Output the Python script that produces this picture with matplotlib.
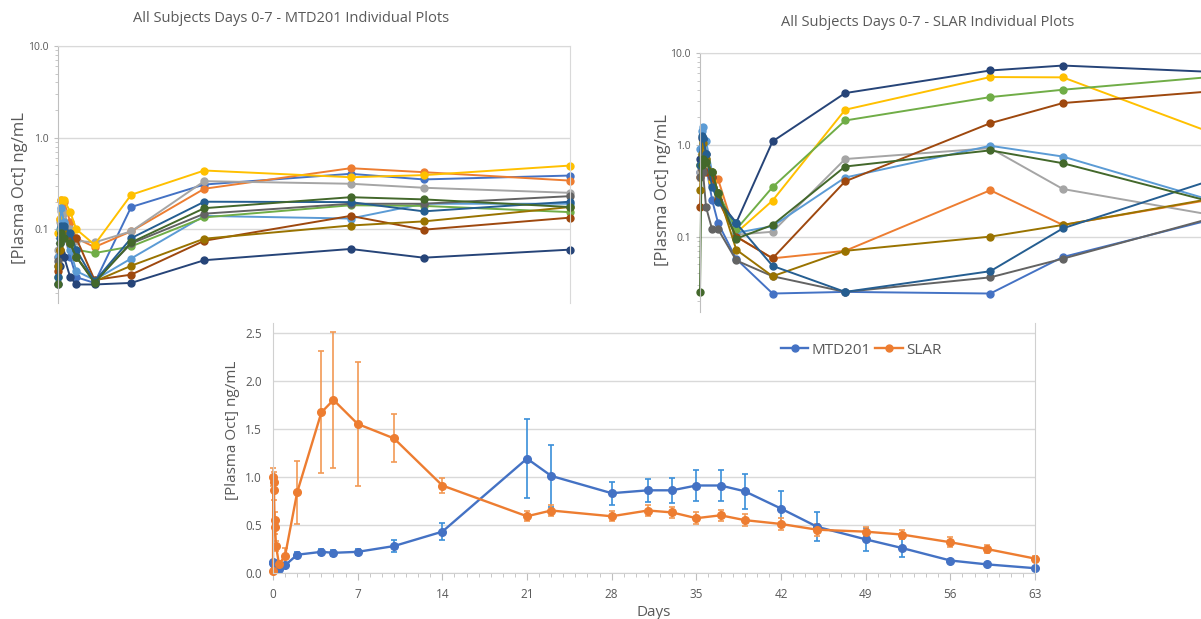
import numpy as np
import matplotlib
matplotlib.use("Agg")
import matplotlib.pyplot as plt
from matplotlib import ticker
from matplotlib.lines import Line2D

plt.rcParams['font.family'] = ['Open Sans', 'DejaVu Sans']

# time points of the individual plots (days)
t_ind = [0, 0.021, 0.042, 0.083, 0.167, 0.25, 0.5, 1, 2, 4, 5, 7]

# excel default series colours
colors = ['#4472C4', '#ED7D31', '#A5A5A5', '#FFC000', '#5B9BD5', '#70AD47',
          '#264478', '#9E480E', '#636363', '#997300', '#255E91', '#43682B']

# MTD201 individual subjects (ng/mL)
mtd_s1 = [0.04, 0.07, 0.10, 0.09, 0.05, 0.030, 0.026, 0.175, 0.308, 0.403, 0.35, 0.386]
mtd_s2 = [0.05, 0.13, 0.21, 0.20, 0.12, 0.080, 0.064, 0.095, 0.277, 0.464, 0.42, 0.34]
mtd_s3 = [0.06, 0.12, 0.16, 0.15, 0.10, 0.075, 0.072, 0.095, 0.335, 0.314, 0.284, 0.25]
mtd_s4 = [0.09, 0.13, 0.21, 0.21, 0.155, 0.10, 0.068, 0.238, 0.438, 0.37, 0.39, 0.496]
mtd_s5 = [0.05, 0.10, 0.17, 0.12, 0.06, 0.035, 0.028, 0.048, 0.14, 0.131, 0.19, 0.19]
mtd_s6 = [0.03, 0.06, 0.10, 0.09, 0.07, 0.06, 0.055, 0.065, 0.135, 0.183, 0.18, 0.154]
mtd_s7 = [0.025, 0.04, 0.055, 0.05, 0.03, 0.025, 0.025, 0.026, 0.046, 0.061, 0.049, 0.06]
mtd_s8 = [0.035, 0.06, 0.08, 0.09, 0.08, 0.08, 0.028, 0.032, 0.075, 0.14, 0.099, 0.134]
mtd_s9 = [0.045, 0.07, 0.09, 0.10, 0.07, 0.05, 0.027, 0.07, 0.148, 0.19, 0.19, 0.23]
mtd_s10 = [0.04, 0.06, 0.09, 0.09, 0.07, 0.05, 0.027, 0.04, 0.079, 0.11, 0.122, 0.175]
mtd_s11 = [0.03, 0.08, 0.11, 0.11, 0.09, 0.06, 0.027, 0.08, 0.20, 0.198, 0.157, 0.20]
mtd_s12 = [0.025, 0.07, 0.09, 0.08, 0.07, 0.05, 0.026, 0.072, 0.17, 0.224, 0.212, 0.175]
mtd_subj = [mtd_s1, mtd_s2, mtd_s3, mtd_s4, mtd_s5, mtd_s6,
            mtd_s7, mtd_s8, mtd_s9, mtd_s10, mtd_s11, mtd_s12]

# SLAR individual subjects (ng/mL)
slar_s1 = [0.5, 0.9, 1.0, 0.6, 0.25, 0.14, 0.057, 0.024, 0.025, 0.024, 0.06, 0.15]
slar_s2 = [0.45, 0.7, 0.8, 0.55, 0.45, 0.42, 0.10, 0.058, 0.07, 0.32, 0.134, 0.25]
slar_s3 = [0.5, 0.8, 0.9, 0.6, 0.45, 0.30, 0.105, 0.113, 0.70, 0.92, 0.33, 0.175]
slar_s4 = [0.6, 0.85, 1.1, 0.7, 0.4, 0.28, 0.11, 0.247, 2.41, 5.47, 5.43, 1.4]
slar_s5 = [0.9, 1.4, 1.58, 1.1, 0.5, 0.30, 0.11, 0.13, 0.44, 0.975, 0.745, 0.255]
slar_s6 = [0.6, 0.75, 0.7, 0.65, 0.5, 0.30, 0.12, 0.346, 1.84, 3.31, 3.98, 5.45]
slar_s7 = [0.7, 1.2, 1.15, 0.8, 0.45, 0.25, 0.142, 1.09, 3.66, 6.45, 7.3, 6.25]
slar_s8 = [0.21, 0.55, 0.65, 0.5, 0.45, 0.25, 0.10, 0.058, 0.40, 1.72, 2.85, 3.8]
slar_s9 = [0.45, 0.55, 0.5, 0.21, 0.12, 0.12, 0.055, 0.037, 0.025, 0.036, 0.0575, 0.155]
slar_s10 = [0.32, 0.8, 1.05, 0.7, 0.5, 0.30, 0.072, 0.037, 0.07, 0.10, 0.134, 0.255]
slar_s11 = [0.6, 1.25, 1.2, 0.8, 0.35, 0.24, 0.14, 0.048, 0.025, 0.042, 0.123, 0.4]
slar_s12 = [0.025, 0.6, 0.7, 0.65, 0.5, 0.30, 0.095, 0.134, 0.58, 0.87, 0.63, 0.245]
slar_subj = [slar_s1, slar_s2, slar_s3, slar_s4, slar_s5, slar_s6,
             slar_s7, slar_s8, slar_s9, slar_s10, slar_s11, slar_s12]

# mean profiles (bottom chart)
days = [0, 0.021, 0.042, 0.083, 0.125, 0.167, 0.25, 0.5, 1, 2, 4, 5, 7, 10, 14,
        21, 23, 28, 31, 33, 35, 37, 39, 42, 45, 49, 52, 56, 59, 63]
mtd_mean = [0.10, 0.11, 0.10, 0.09, 0.08, 0.07, 0.05, 0.04, 0.08, 0.19, 0.22, 0.21, 0.22, 0.28, 0.43,
            1.19, 1.01, 0.83, 0.86, 0.86, 0.91, 0.91, 0.85, 0.67, 0.48, 0.35, 0.26, 0.13, 0.09, 0.05]
mtd_err = [0.02, 0.02, 0.02, 0.02, 0.02, 0.02, 0.02, 0.01, 0.02, 0.03, 0.03, 0.03, 0.03, 0.06, 0.09,
           0.41, 0.32, 0.12, 0.12, 0.13, 0.16, 0.16, 0.18, 0.18, 0.15, 0.12, 0.09, 0.02, 0.01, 0.01]
slar_mean = [0.02, 1.00, 0.95, 0.86, 0.55, 0.48, 0.28, 0.09, 0.18, 0.84, 1.67, 1.80, 1.55, 1.40, 0.91,
             0.59, 0.65, 0.59, 0.65, 0.63, 0.57, 0.60, 0.55, 0.51, 0.45, 0.43, 0.40, 0.32, 0.25, 0.15]
slar_err = [0.01, 0.09, 0.10, 0.10, 0.08, 0.07, 0.05, 0.02, 0.08, 0.33, 0.635, 0.71, 0.645, 0.25, 0.08,
            0.05, 0.06, 0.05, 0.06, 0.06, 0.06, 0.06, 0.06, 0.06, 0.06, 0.05, 0.05, 0.05, 0.04, 0.03]

W, H = 1201, 619
fig = plt.figure(figsize=(W / 100, H / 100), dpi=100)

txt = '#595959'
grid = '#D9D9D9'


def px_axes(x0, y0, x1, y1):
    # axes from pixel box (top-left origin)
    return fig.add_axes([x0 / W, 1 - y1 / H, (x1 - x0) / W, (y1 - y0) / H])


def log_panel(ax, subj, ylow):
    for vals, c in zip(subj, colors):
        ax.plot(t_ind, vals, '-o', color=c, lw=1.4, ms=5, clip_on=False)
    ax.set_yscale('log')
    ax.set_xlim(0, 7)
    ax.set_ylim(ylow, 10)
    ax.set_yticks([0.1, 1, 10])
    ax.yaxis.set_major_formatter(ticker.FixedFormatter(['0.1', '1.0', '10.0']))
    ax.yaxis.set_minor_locator(ticker.LogLocator(subs=np.arange(2, 10)))
    ax.yaxis.set_minor_formatter(ticker.NullFormatter())
    ax.set_xticks([])
    ax.tick_params(axis='y', which='major', labelsize=7.5, labelcolor=txt, color='#BFBFBF', length=3)
    ax.tick_params(axis='y', which='minor', color='#BFBFBF', length=2)
    ax.grid(axis='y', which='major', color=grid, lw=1)
    ax.set_axisbelow(True)
    for s in ['top', 'right']:
        ax.spines[s].set_color(grid)
    ax.spines['left'].set_color('#BFBFBF')
    ax.spines['bottom'].set_visible(False)


#左上 MTD201
ax1 = px_axes(58, 46, 570, 303)
log_panel(ax1, mtd_subj, 0.0157)
fig.text(291 / W, 1 - 18 / H, 'All Subjects Days 0-7 - MTD201 Individual Plots',
         ha='center', va='center', fontsize=10.5, color=txt)
fig.text(20 / W, 1 - 188 / H, '[Plasma Oct] ng/mL', rotation=90,
         ha='center', va='center', fontsize=12, color=txt)

#右上 SLAR (右端は切れている)
ax2 = px_axes(700, 53, 1208, 312)
log_panel(ax2, slar_subj, 0.0151)
fig.text(928 / W, 1 - 23 / H, 'All Subjects Days 0-7 - SLAR Individual Plots',
         ha='center', va='center', fontsize=10.5, color=txt)
fig.text(663 / W, 1 - 190 / H, '[Plasma Oct] ng/mL', rotation=90,
         ha='center', va='center', fontsize=12, color=txt)

#下 平均値
ax3 = px_axes(273, 323, 1035, 573)
ax3.errorbar(days, mtd_mean, yerr=mtd_err, fmt='-o', color='#4472C4', ecolor='#3A8FD9',
             lw=1.7, ms=5.5, elinewidth=1.2, capsize=2.5, capthick=1.2, clip_on=False)
ax3.errorbar(days, slar_mean, yerr=slar_err, fmt='-o', color='#ED7D31', ecolor='#F29A55',
             lw=1.7, ms=5.5, elinewidth=1.2, capsize=2.5, capthick=1.2, clip_on=False)
ax3.set_xlim(0, 63)
ax3.set_ylim(0, 2.6)
ax3.set_yticks(np.arange(0, 2.51, 0.5))
ax3.yaxis.set_major_formatter(ticker.FormatStrFormatter('%.1f'))
ax3.set_xticks(np.arange(0, 64, 7))
ax3.xaxis.set_minor_locator(ticker.MultipleLocator(1))
ax3.tick_params(axis='y', length=0, labelsize=8.5, labelcolor=txt, pad=8)
ax3.tick_params(axis='x', which='major', length=5, color='#BFBFBF', labelsize=8.5, labelcolor=txt, pad=6)
ax3.tick_params(axis='x', which='minor', length=3, color='#BFBFBF')
ax3.grid(axis='y', color=grid, lw=1)
ax3.set_axisbelow(True)
ax3.spines['top'].set_visible(False)
for s in ['left', 'right', 'bottom']:
    ax3.spines[s].set_color('#D0D0D0')
ax3.set_xlabel('Days', fontsize=11, color=txt, labelpad=3)
fig.text(232 / W, 1 - 430 / H, '[Plasma Oct] ng/mL', rotation=90,
         ha='center', va='center', fontsize=11, color=txt)

#凡例 (線とマーカーのみ)
handles = [Line2D([], [], color='#4472C4', marker='o', lw=1.7, ms=5),
           Line2D([], [], color='#ED7D31', marker='o', lw=1.7, ms=5)]
ax3.legend(handles, ['MTD201', 'SLAR'], loc='center', bbox_to_anchor=(861 / W, 1 - 350 / H),
           bbox_transform=fig.transFigure, ncol=2, frameon=False, fontsize=11,
           handlelength=1.8, columnspacing=0.3, handletextpad=0.2, labelcolor=txt)

fig.savefig('out.png', dpi=100)
print('fig.saved')
